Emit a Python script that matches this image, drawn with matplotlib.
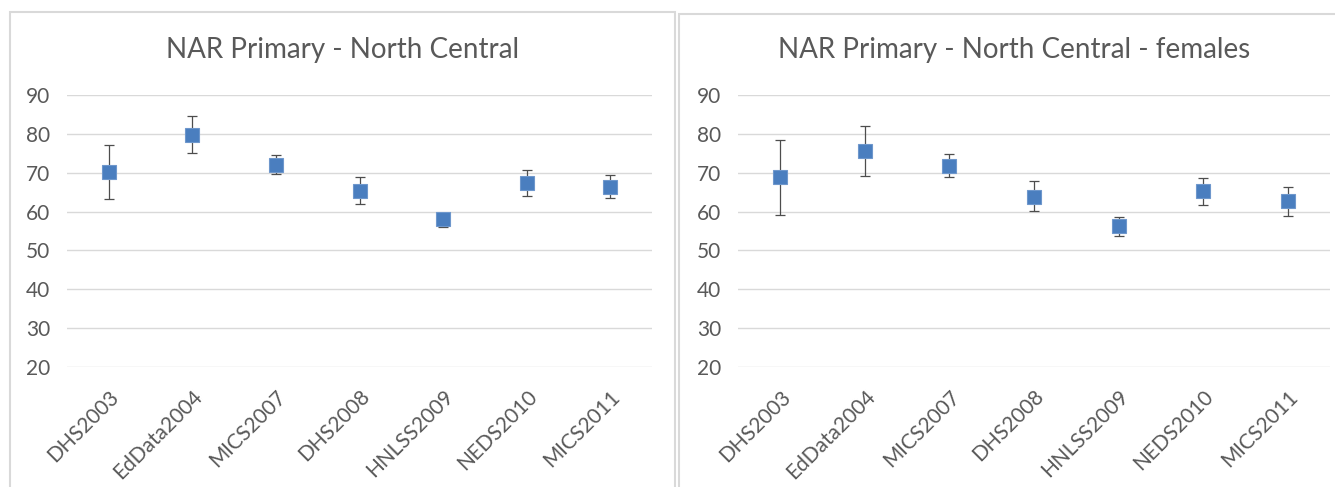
import matplotlib
matplotlib.use("Agg")
import matplotlib.pyplot as plt
from matplotlib.patches import Rectangle

surveys = ["DHS2003", "EdData2004", "MICS2007", "DHS2008", "HNLSS2009", "NEDS2010", "MICS2011"]

# all children
nar_all = [70.1, 79.7, 72.0, 65.4, 58.0, 67.4, 66.3]
nar_all_hi = [77.1, 84.6, 74.6, 68.9, 59.7, 70.8, 69.4]
nar_all_lo = [63.2, 75.0, 69.7, 62.0, 56.0, 64.0, 63.4]

# females
nar_fem = [68.8, 75.6, 71.8, 63.8, 56.2, 65.2, 62.6]
nar_fem_hi = [78.3, 81.9, 74.7, 67.8, 58.6, 68.6, 66.2]
nar_fem_lo = [59.1, 69.2, 68.9, 60.1, 53.6, 61.6, 58.9]

titles = ["NAR Primary - North Central", "NAR Primary - North Central - females"]

plt.rcParams['font.family'] = ['Lato', 'DejaVu Sans']
W, H = 1335, 487
fig = plt.figure(figsize=(W / 100, H / 100), dpi=100)

grey = '#595959'
blue = '#4A7EBF'


def panel(ax, vals, hi, lo):
    x = list(range(len(surveys)))
    yerr = [[v - l for v, l in zip(vals, lo)], [h - v for v, h in zip(vals, hi)]]
    ax.errorbar(x, vals, yerr=yerr, fmt='none', ecolor='#4D4D4D', elinewidth=0.9,
                capsize=3.8, capthick=0.9, zorder=3)
    ax.plot(x, vals, 's', color=blue, markersize=10, markeredgecolor='#6E97CC',
            markeredgewidth=0.8, zorder=4)
    ax.set_xlim(-0.5, len(surveys) - 0.5)
    ax.set_ylim(20, 90)
    ax.set_yticks(range(20, 91, 10))
    ax.yaxis.grid(True, color='#D9D9D9', linewidth=1)
    ax.set_axisbelow(True)
    for s in ax.spines.values():
        s.set_visible(False)
    ax.tick_params(length=0, colors=grey, labelsize=15)
    ax.tick_params(axis='y', pad=12)
    ax.set_xticks(x)
    ax.set_xticklabels(surveys, rotation=45, ha='right', rotation_mode='anchor')
    ax.tick_params(axis='x', pad=14)


ax1 = fig.add_axes([67 / W, 1 - 367 / H, (652 - 67) / W, 272 / H])
ax2 = fig.add_axes([738 / W, 1 - 367 / H, (1330 - 738) / W, 272 / H])
panel(ax1, nar_all, nar_all_hi, nar_all_lo)
panel(ax2, nar_fem, nar_fem_hi, nar_fem_lo)

# titles centred on each chart frame
fig.text(343 / W, 1 - 50 / H, titles[0], color=grey, fontsize=20, ha='center', va='center')
fig.text(1014 / W, 1 - 50 / H, titles[1], color=grey, fontsize=20, ha='center', va='center')

# chart frames
fig.patches.append(Rectangle((10 / W, -0.05), 665 / W, 1.05 - 12 / H, transform=fig.transFigure,
                             fill=False, edgecolor='#D9D9D9', linewidth=1.5))
fig.patches.append(Rectangle((679 / W, -0.05), 670 / W, 1.05 - 14 / H, transform=fig.transFigure,
                             fill=False, edgecolor='#D9D9D9', linewidth=1.5))

fig.savefig('out.png', dpi=100)
